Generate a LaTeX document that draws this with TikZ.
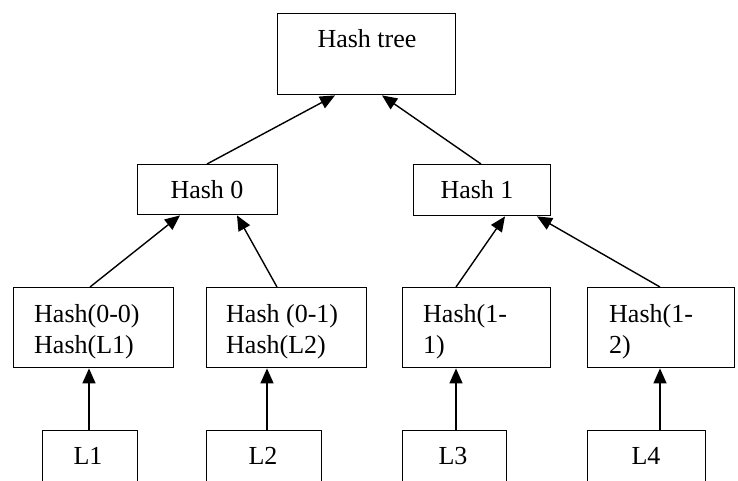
\documentclass[tikz,border=0pt]{standalone}
\usepackage{fontspec}
\setmainfont{Liberation Serif}
\usetikzlibrary{arrows.meta}
\begin{document}
\begin{tikzpicture}[x=1pt,y=-1pt,
  box/.style={draw=black,line width=1.4pt,rectangle,inner sep=0pt,anchor=north west},
  txt/.style={inner sep=0pt,font=\fontsize{26}{31}\selectfont},
  arr/.style={line width=1.4pt,-{Triangle[length=15pt,width=13pt]}}]
\clip (0,0) rectangle (738,481);
\fill[white] (0,0) rectangle (738,481);
% boxes
\node[box,minimum width=178pt,minimum height=81pt] (ht) at (277,13) {};
\node[box,minimum width=140pt,minimum height=50pt] (h0) at (137,164) {};
\node[box,minimum width=137pt,minimum height=51pt] (h1) at (413,164) {};
\node[box,minimum width=160pt,minimum height=80pt] (h00) at (13,287) {};
\node[box,minimum width=160pt,minimum height=80pt] (h01) at (206,287) {};
\node[box,minimum width=148pt,minimum height=80pt] (h11) at (402,287) {};
\node[box,minimum width=147pt,minimum height=80pt] (h12) at (587,287) {};
\node[box,minimum width=95pt,minimum height=70pt] (l1) at (42,430) {};
\node[box,minimum width=115pt,minimum height=70pt] (l2) at (206,430) {};
\node[box,minimum width=104pt,minimum height=70pt] (l3) at (402,430) {};
\node[box,minimum width=118pt,minimum height=70pt] (l4) at (587,430) {};
% texts
\node[txt,anchor=base] (tht) at (367,48) {Hash tree};
\node[txt,anchor=base] (th0) at (207,198) {Hash 0};
\node[txt,anchor=base] (th1) at (477,198) {Hash 1};
\node[txt,anchor=base west] (t00a) at (34,322) {Hash(0-0)};
\node[txt,anchor=base west] (t00b) at (34,353) {Hash(L1)};
\node[txt,anchor=base west] (t01a) at (226,322) {Hash (0-1)};
\node[txt,anchor=base west] (t01b) at (226,353) {Hash(L2)};
\node[txt,anchor=base west] (t11a) at (423,322) {Hash(1-};
\node[txt,anchor=base west] (t11b) at (423,353) {1)};
\node[txt,anchor=base west] (t12a) at (609,322) {Hash(1-};
\node[txt,anchor=base west] (t12b) at (609,353) {2)};
\node[txt,anchor=base] (tl1) at (88,464) {L1};
\node[txt,anchor=base] (tl2) at (263,464) {L2};
\node[txt,anchor=base] (tl3) at (453,464) {L3};
\node[txt,anchor=base] (tl4) at (646,464) {L4};
% connectors
\draw[arr] ([xshift=70pt]h0.north west) -- ([xshift=58pt]ht.south west);
\draw[arr] ([xshift=68pt]h1.north west) -- ([xshift=105pt]ht.south west);
\draw[arr] ([xshift=77pt]h00.north west) -- ([xshift=43pt]h0.south west);
\draw[arr] ([xshift=71pt]h01.north west) -- ([xshift=100pt]h0.south west);
\draw[arr] ([xshift=54pt]h11.north west) -- ([xshift=92pt]h1.south west);
\draw[arr] ([xshift=73pt]h12.north west) -- ([xshift=124pt]h1.south west);
\draw[arr] ([xshift=47pt]l1.north west) -- ([xshift=47pt]l1.north west |- h00.south);
\draw[arr] ([xshift=61pt]l2.north west) -- ([xshift=61pt]l2.north west |- h01.south);
\draw[arr] ([xshift=54pt]l3.north west) -- ([xshift=54pt]l3.north west |- h11.south);
\draw[arr] ([xshift=73pt]l4.north west) -- ([xshift=73pt]l4.north west |- h12.south);
\end{tikzpicture}
\end{document}
